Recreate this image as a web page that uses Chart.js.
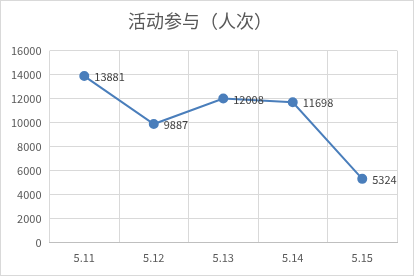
<!DOCTYPE html>
<html>
<head>
<meta charset="utf-8">
<script src="https://cdn.jsdelivr.net/npm/chart.js@4"></script>
<style>
  html, body { margin: 0; padding: 0; background: #fff; }
  #wrap { width: 414px; height: 276px; box-sizing: border-box; border: 1px solid #d9d9d9; }
</style>
</head>
<body>
<div id="wrap"><canvas id="c" width="412" height="274"></canvas></div>
<script>
var days = ['5.11', '5.12', '5.13', '5.14', '5.15'];
var visits = [13881, 9887, 12008, 11698, 5324];
var yTicks = [0, 2000, 4000, 6000, 8000, 10000, 12000, 14000, 16000];

var FONT = '"Noto Sans CJK SC", "Noto Sans", sans-serif';

// draws the value next to each point
var valueLabels = {
  id: 'valueLabels',
  afterDatasetsDraw: function (chart) {
    var ctx = chart.ctx;
    var meta = chart.getDatasetMeta(0);
    ctx.save();
    ctx.font = '11px ' + FONT;
    ctx.fillStyle = '#404040';
    ctx.textAlign = 'left';
    ctx.textBaseline = 'middle';
    meta.data.forEach(function (pt, i) {
      ctx.fillText(String(visits[i]), pt.x + 10, pt.y + 1);
    });
    ctx.restore();
  }
};

new Chart(document.getElementById('c').getContext('2d'), {
  type: 'line',
  data: {
    labels: days,
    datasets: [{
      data: visits,
      borderColor: '#4a7ebb',
      backgroundColor: '#4a7ebb',
      borderWidth: 2,
      pointRadius: 4,
      pointHoverRadius: 4,
      tension: 0,
      fill: false
    }]
  },
  options: {
    responsive: false,
    animation: false,
    layout: { padding: { left: 2, right: 16, top: 0, bottom: 3 } },
    plugins: {
      legend: { display: false },
      tooltip: { enabled: false },
      title: {
        display: true,
        text: '活动参与（人次）',
        color: '#595959',
        font: { family: FONT, size: 18, weight: 'normal' },
        padding: { top: 9, bottom: 19 }
      }
    },
    scales: {
      x: {
        offset: true,
        grid: { offset: true, color: '#d9d9d9', drawTicks: false },
        border: { color: '#bfbfbf' },
        ticks: { color: '#595959', font: { family: FONT, size: 11 }, padding: 8 }
      },
      y: {
        min: 0,
        max: 16000,
        afterBuildTicks: function (scale) {
          scale.ticks = yTicks.map(function (v) { return { value: v }; });
        },
        grid: { color: '#d9d9d9', drawTicks: false },
        border: { display: false },
        ticks: {
          color: '#595959',
          font: { family: FONT, size: 11 },
          padding: 8,
          callback: function (v) { return String(v); }
        }
      }
    }
  },
  plugins: [valueLabels]
});
</script>
</body>
</html>
